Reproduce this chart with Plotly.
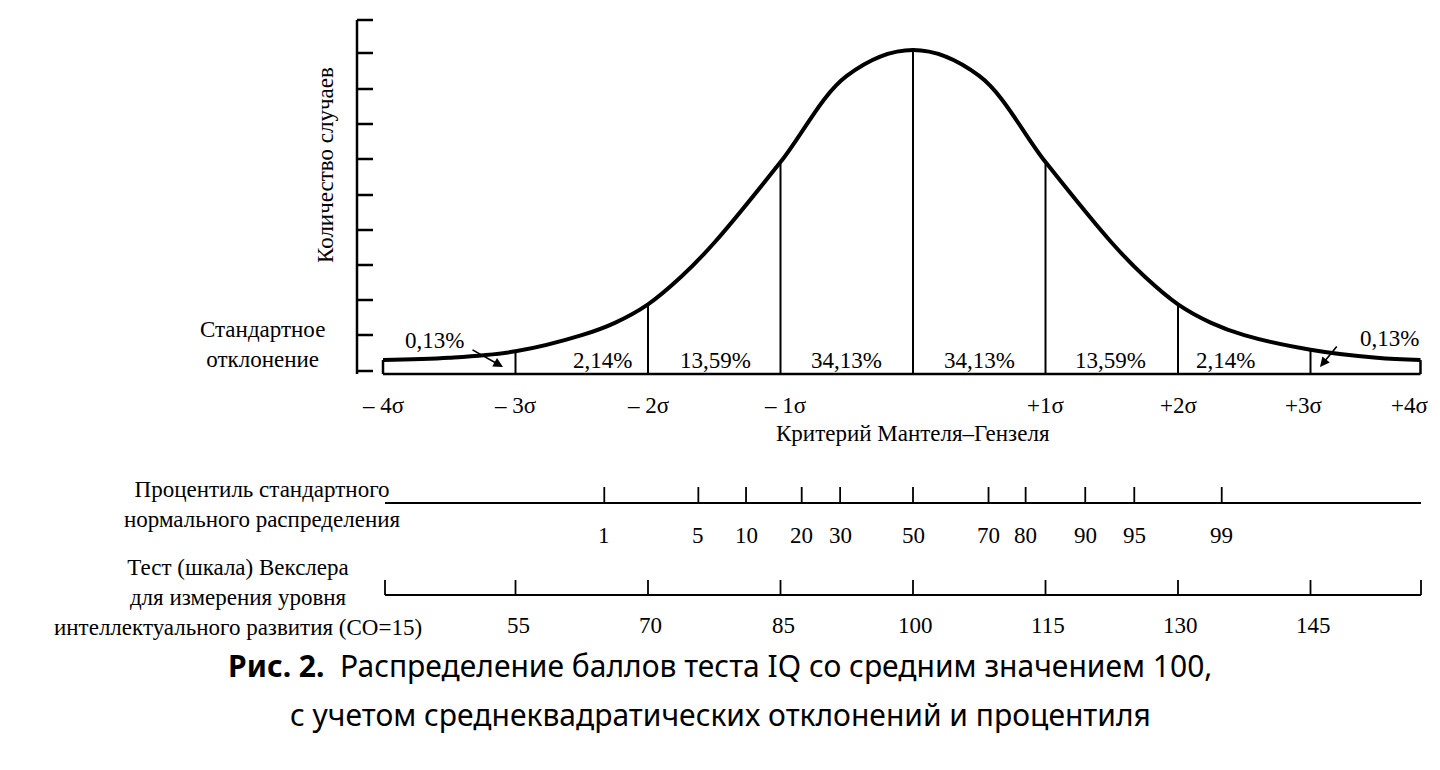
import plotly.graph_objects as go

# curve: x in sigma units, y = cases (peak = 100)
curve_x = [-4.0, -3.5, -3.0, -2.5, -2.25, -2.0, -1.75, -1.5, -1.0, -0.5, 0.0,
           0.5, 1.0, 1.5, 1.75, 2.0, 2.25, 2.5, 3.0, 3.5, 3.83]
curve_y = [4.3, 5.0, 7.0, 12.0, 15.8, 21.5, 30.0, 40.5, 65.4, 92.0, 100.0,
           92.0, 65.4, 40.5, 30.0, 21.5, 15.8, 12.0, 7.5, 5.0, 4.3]

sigma_pos = [-3, -2, -1, 0, 1, 2, 3]
sigma_height = [7.0, 21.5, 65.4, 100.0, 65.4, 21.5, 7.5]
sigma_labels = ["– 4σ", "– 3σ", "– 2σ", "– 1σ", "+1σ", "+2σ", "+3σ", "+4σ"]
sigma_label_x = [-4.0, -3.0, -2.0, -0.96, 1.0, 2.0, 2.95, 3.75]

share_labels = ["2,14%", "13,59%", "34,13%", "34,13%", "13,59%", "2,14%"]
share_x = [-2.34, -1.49, -0.5, 0.5, 1.49, 2.36]

pct_labels = ["1", "5", "10", "20", "30", "50", "70", "80", "90", "95", "99"]
pct_z = [-2.33, -1.62, -1.26, -0.84, -0.55, 0.0, 0.57, 0.85, 1.3, 1.67, 2.33]

iq_labels = ["55", "70", "85", "100", "115", "130", "145"]
iq_z = [-3, -2, -1, 0, 1, 2, 3]

# pixel -> data helpers (layout only)
CX, SX, BY, SY = 913, 132.5, 374, 3.24
OFF = 8  # page body margin
def px(x):
    return (x - CX) / SX
def py(y):
    return (BY - y) / SY

fig = go.Figure()

def segs(pairs, width):
    xs, ys = [], []
    for (x0, y0, x1, y1) in pairs:
        xs += [x0, x1, None]
        ys += [y0, y1, None]
    fig.add_trace(go.Scatter(x=xs, y=ys, mode="lines", line=dict(color="black", width=width),
                             hoverinfo="skip", showlegend=False))

# bell curve
fig.add_trace(go.Scatter(x=curve_x, y=curve_y, mode="lines",
                         line=dict(color="black", width=4, shape="spline", smoothing=1.0),
                         showlegend=False))
# sigma verticals, baseline box
segs([(x, 0, x, h) for x, h in zip(sigma_pos, sigma_height)], 2)
segs([(curve_x[0], 0, curve_x[-1], 0), (curve_x[0], 0, curve_x[0], curve_y[0]),
      (curve_x[-1], 0, curve_x[-1], curve_y[-1])], 2.5)
# count axis
ax_x = px(357)
tick_px = [20, 53, 89, 124, 159, 195, 230, 265, 300, 335, 371]
segs([(ax_x, py(20), ax_x, py(374))] + [(ax_x, py(t), px(373), py(t)) for t in tick_px], 2.5)

# percentile scale
pl_y = py(503)
segs([(px(385), pl_y, px(1421), pl_y)] + [(z, pl_y, z, py(487)) for z in pct_z], 1.8)
# Wechsler scale
wl_y = py(595)
segs([(px(385), wl_y, px(1421), wl_y), (px(385), wl_y, px(385), py(580)), (px(1421), wl_y, px(1421), py(580))]
     + [(z, wl_y, z, py(580)) for z in iq_z], 1.8)

F = dict(family="Liberation Serif, DejaVu Serif, serif", size=23, color="black")

def txt(x, y, s, xanchor="center", align="center", font=F):
    fig.add_annotation(x=x, y=y, text=s, showarrow=False, xanchor=xanchor, yanchor="middle",
                       align=align, font=font)

for s, x in zip(share_labels, share_x):
    txt(x, py(360), s)
for s, x in zip(sigma_labels, sigma_label_x):
    txt(x, py(405), s)
for s, z in zip(pct_labels, pct_z):
    txt(z, py(535), s)
for s, z in zip(iq_labels, iq_z):
    txt(z + 0.02, py(625), s)

txt(0, py(433), "Критерий Мантеля–Гензеля")
txt(px(327), py(344), "Стандартное<br>отклонение", xanchor="right", align="center")
txt(px(262), py(504), "Процентиль стандартного<br>нормального распределения")
txt(px(238), py(597), "Тест (шкала) Векслера<br>для измерения уровня<br>интеллектуального развития (СО=15)")
fig.add_annotation(x=px(325), y=py(165), text="Количество случаев", textangle=-90, showarrow=False,
                   font=F)

# 0,13% labels with arrows
txt(px(434), py(340), "0,13%")
txt(px(1389), py(338), "0,13%")
fig.add_annotation(x=px(503), y=py(367), ax=-32, ay=-18, text="", showarrow=True, arrowhead=2,
                   arrowsize=1.2, arrowwidth=1.6, arrowcolor="black")
fig.add_annotation(x=px(1320), y=py(367), ax=18, ay=-22, text="", showarrow=True, arrowhead=2,
                   arrowsize=1.2, arrowwidth=1.6, arrowcolor="black")

# caption
CF = dict(family="Noto Sans, DejaVu Sans, sans-serif", size=30, color="black")
fig.add_annotation(xref="paper", yref="paper", x=(720 - OFF) / 1440, y=1 - (688 - OFF) / 770,
                   showarrow=False, font=CF,
                   text="<b>Рис. 2.</b>  Распределение баллов теста IQ со средним значением 100,")
fig.add_annotation(xref="paper", yref="paper", x=(720 - OFF) / 1440, y=1 - (737 - OFF) / 770,
                   showarrow=False, font=CF,
                   text="с учетом среднеквадратических отклонений и процентиля")

fig.update_layout(width=1440, height=770, margin=dict(l=0, r=0, t=0, b=0),
                  plot_bgcolor="white", paper_bgcolor="white")
fig.update_xaxes(range=[px(OFF), px(1440 + OFF)], visible=False)
fig.update_yaxes(range=[py(770 + OFF), py(OFF)], visible=False)
fig.write_html("out.html")
